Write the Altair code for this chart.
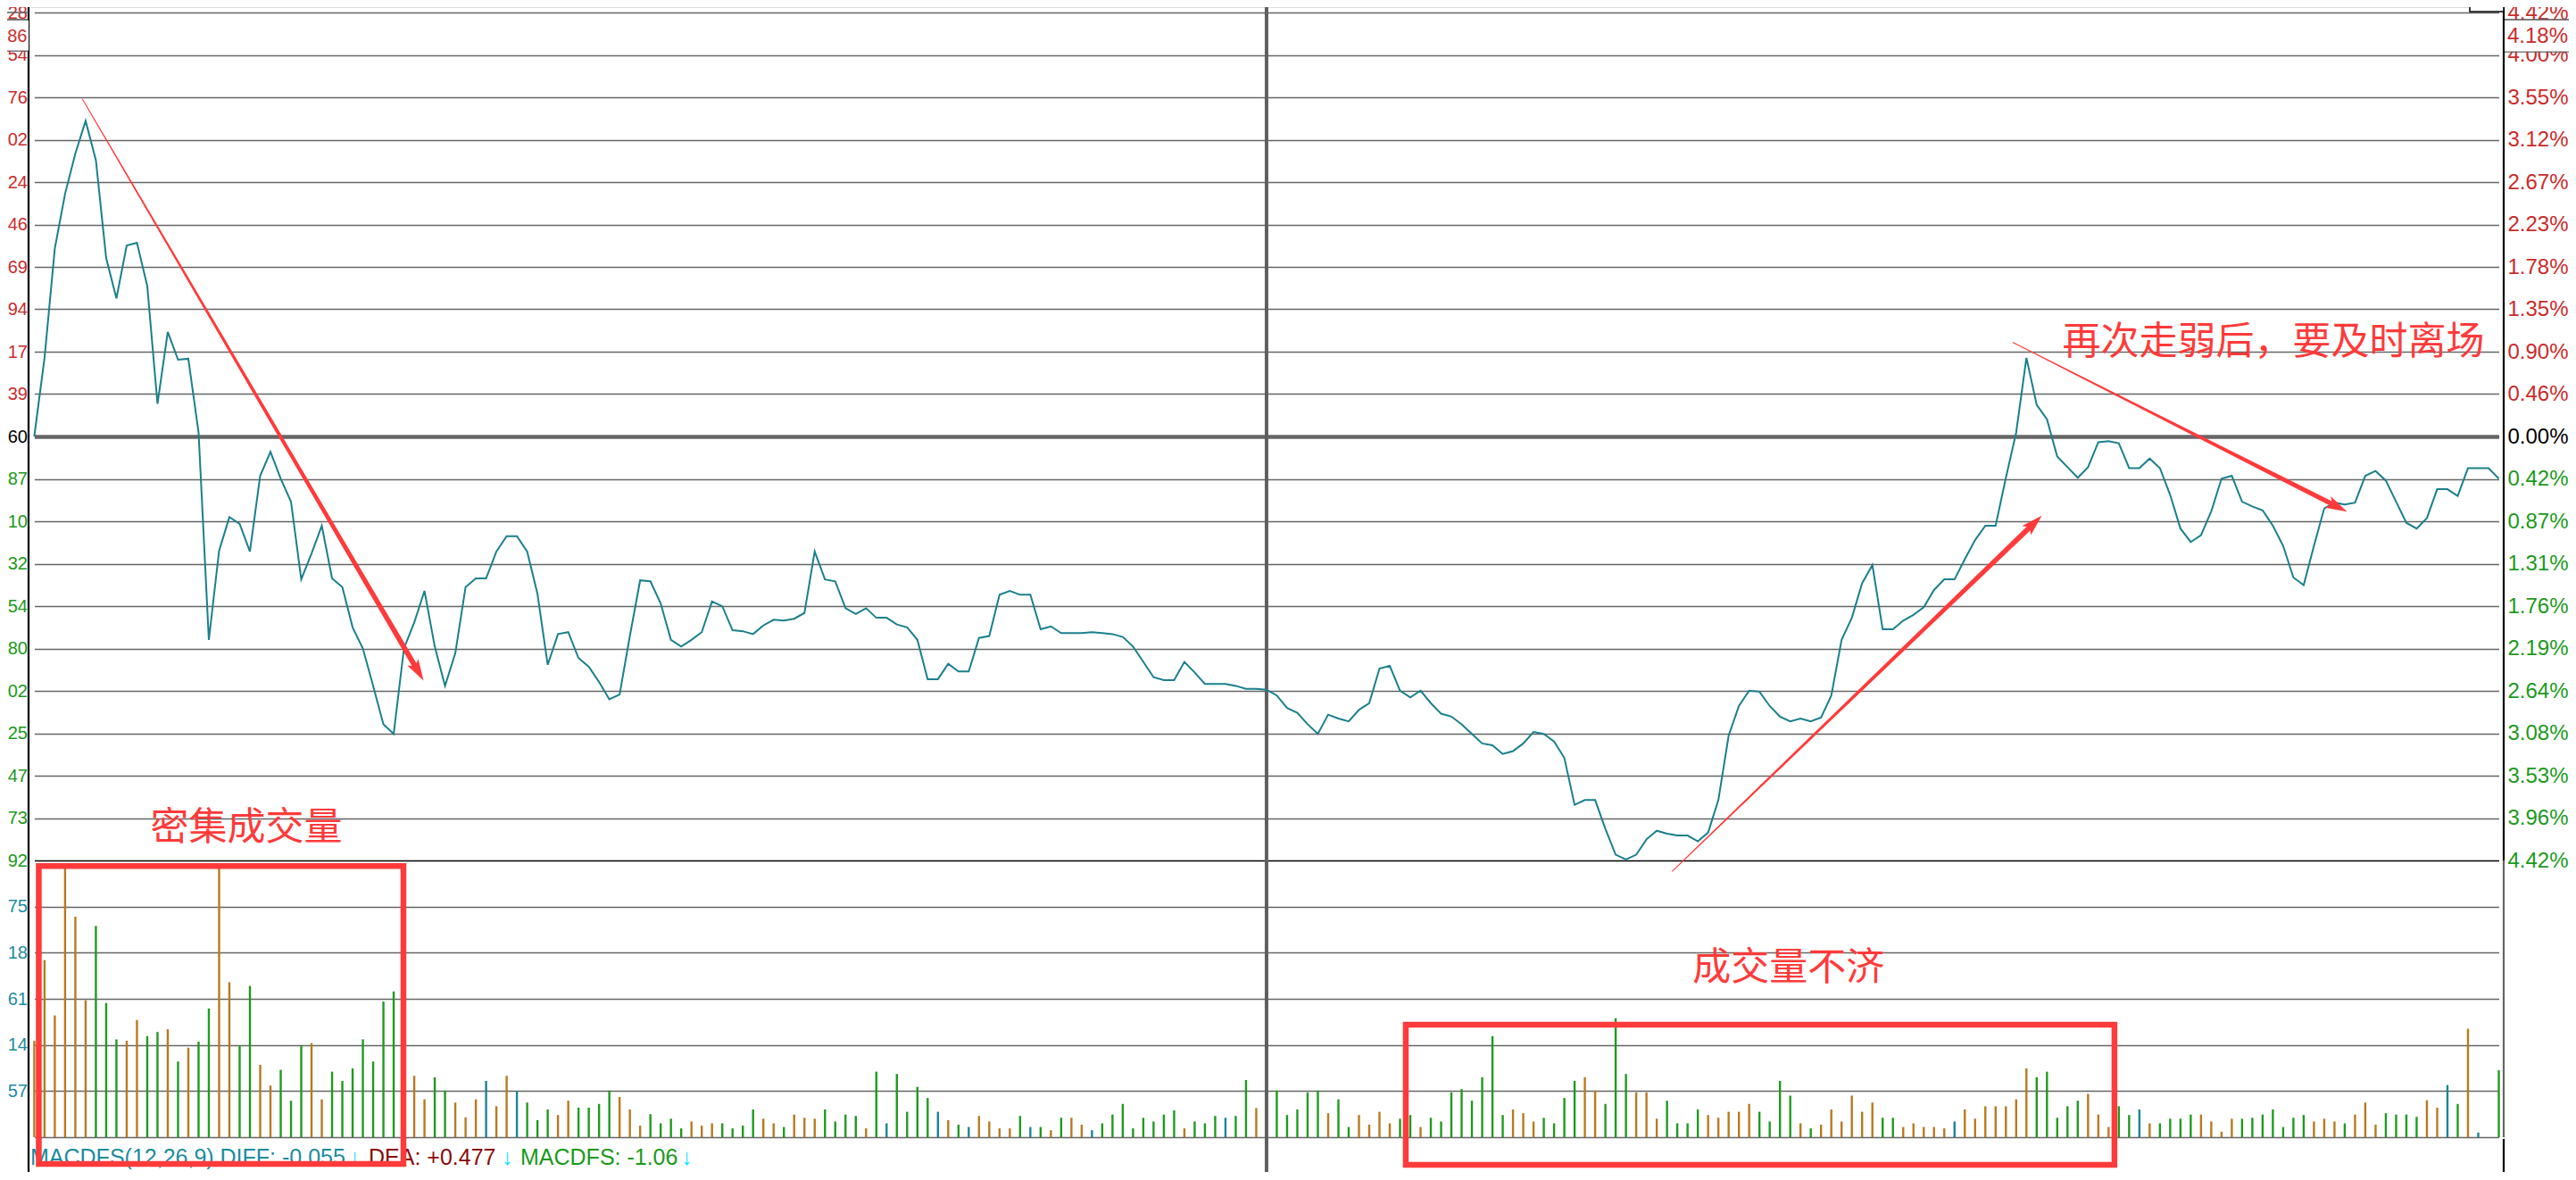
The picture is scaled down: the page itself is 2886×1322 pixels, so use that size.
import math
import altair as alt
import pandas as pd

# ---------------- data ----------------
minutes = list(range(241))

# price change in % versus previous close, one value per minute
price_pct = [
    0.00, 0.82, 1.96, 2.53, 2.95, 3.29, 2.88, 1.86, 1.44, 1.99,
    2.02, 1.57, 0.34, 1.09, 0.80, 0.81, 0.04, -2.12, -1.19, -0.84,
    -0.91, -1.20, -0.41, -0.16, -0.44, -0.68, -1.49, -1.22, -0.93, -1.48,
    -1.57, -1.99, -2.21, -2.60, -3.00, -3.10, -2.21, -1.94, -1.61, -2.19,
    -2.60, -2.26, -1.57, -1.48, -1.48, -1.20, -1.04, -1.04, -1.20, -1.64,
    -2.38, -2.06, -2.04, -2.31, -2.40, -2.56, -2.74, -2.69, -2.08, -1.50,
    -1.51, -1.74, -2.12, -2.19, -2.12, -2.04, -1.72, -1.77, -2.02, -2.03,
    -2.06, -1.97, -1.91, -1.92, -1.90, -1.84, -1.20, -1.49, -1.51, -1.79,
    -1.85, -1.79, -1.89, -1.89, -1.96, -1.99, -2.12, -2.53, -2.53, -2.37,
    -2.45, -2.45, -2.10, -2.08, -1.65, -1.61, -1.65, -1.65, -2.01, -1.98,
    -2.05, -2.05, -2.05, -2.04, -2.05, -2.06, -2.09, -2.19, -2.35, -2.51,
    -2.54, -2.54, -2.35, -2.46, -2.58, -2.58, -2.58, -2.60, -2.63, -2.63,
    -2.64, -2.70, -2.83, -2.88, -3.00, -3.10, -2.90, -2.94, -2.97, -2.85,
    -2.78, -2.42, -2.39, -2.65, -2.72, -2.65, -2.78, -2.89, -2.92, -3.00,
    -3.10, -3.20, -3.22, -3.31, -3.28, -3.20, -3.08, -3.10, -3.18, -3.35,
    -3.84, -3.79, -3.79, -4.09, -4.36, -4.41, -4.36, -4.20, -4.11, -4.14,
    -4.16, -4.16, -4.22, -4.13, -3.79, -3.12, -2.81, -2.65, -2.66, -2.81,
    -2.92, -2.97, -2.94, -2.97, -2.93, -2.70, -2.12, -1.89, -1.53, -1.34,
    -2.01, -2.01, -1.92, -1.86, -1.78, -1.60, -1.49, -1.49, -1.28, -1.08,
    -0.93, -0.93, -0.43, 0.04, 0.82, 0.33, 0.18, -0.21, -0.32, -0.43,
    -0.32, -0.06, -0.05, -0.07, -0.33, -0.33, -0.23, -0.33, -0.61, -0.96,
    -1.10, -1.03, -0.78, -0.44, -0.41, -0.68, -0.73, -0.77, -0.93, -1.14,
    -1.47, -1.55, -1.14, -0.75, -0.69, -0.71, -0.69, -0.41, -0.36, -0.46,
    -0.68, -0.90, -0.96, -0.85, -0.55, -0.55, -0.62, -0.33, -0.33, -0.33,
    -0.44,
]

# volume per minute, in units of one volume grid step
volume = [
    2.09, 3.84, 2.64, 5.85, 4.78, 2.97, 4.58, 2.91, 2.12, 2.09,
    2.54, 2.19, 2.28, 2.34, 1.64, 1.94, 2.07, 2.79, 5.85, 3.36,
    1.99, 3.28, 1.57, 1.12, 1.46, 0.79, 1.99, 2.04, 0.82, 1.42,
    1.22, 1.49, 2.12, 1.64, 2.94, 3.16, 1.00, 1.33, 0.82, 1.30,
    1.01, 0.75, 0.43, 0.82, 1.22, 0.67, 1.33, 1.00, 0.75, 0.37,
    0.60, 0.48, 0.79, 0.64, 0.64, 0.72, 1.01, 0.87, 0.60, 0.25,
    0.50, 0.30, 0.40, 0.19, 0.34, 0.25, 0.30, 0.30, 0.19, 0.25,
    0.60, 0.40, 0.30, 0.22, 0.49, 0.42, 0.40, 0.60, 0.34, 0.49,
    0.46, 0.19, 1.42, 0.30, 1.37, 0.55, 1.09, 0.85, 0.55, 0.37,
    0.27, 0.22, 0.46, 0.34, 0.19, 0.19, 0.46, 0.22, 0.22, 0.15,
    0.42, 0.42, 0.27, 0.15, 0.30, 0.49, 0.72, 0.19, 0.42, 0.34,
    0.49, 0.58, 0.19, 0.34, 0.30, 0.46, 0.42, 0.46, 1.24, 0.63,
    0.40, 1.01, 0.48, 0.60, 0.97, 1.01, 0.52, 0.82, 0.22, 0.48,
    0.27, 0.55, 0.30, 0.40, 0.48, 0.22, 0.42, 0.34, 0.97, 1.04,
    0.79, 1.30, 2.19, 0.48, 0.60, 0.52, 0.34, 0.42, 0.30, 0.85,
    1.22, 1.30, 1.01, 0.72, 2.58, 1.37, 0.97, 0.97, 0.40, 0.79,
    0.30, 0.30, 0.60, 0.48, 0.42, 0.55, 0.55, 0.72, 0.55, 0.34,
    1.22, 0.90, 0.30, 0.19, 0.27, 0.60, 0.34, 0.90, 0.55, 0.75,
    0.42, 0.42, 0.22, 0.30, 0.22, 0.22, 0.19, 0.34, 0.60, 0.40,
    0.67, 0.67, 0.67, 0.82, 1.49, 1.30, 1.42, 0.42, 0.67, 0.79,
    0.94, 0.49, 0.22, 0.67, 0.48, 0.60, 0.30, 0.30, 0.40, 0.40,
    0.49, 0.49, 0.34, 0.12, 0.40, 0.40, 0.42, 0.49, 0.60, 0.22,
    0.42, 0.48, 0.34, 0.40, 0.34, 0.30, 0.49, 0.75, 0.27, 0.52,
    0.49, 0.49, 0.44, 0.80, 0.64, 1.13, 0.72, 2.35, 0.10, 0.00,
    1.45,
]

# bar direction: u = up (orange), d = down (green), f = flat (teal)
vol_dir = list(
    "uuuuuudddu" "uddududduu" "dduuddduud" "dddddduuud" "duuufuufdd"
    "duudddduuu" "dddduuuddd" "duuduuuddd" "dudfddddfu" "dfuuuudfdu"
    "duufdddddd" "ddudddfddu" "dddddduddu" "uuuddudddd" "dddduuuddd"
    "duuddduuud" "ddduuuuudd" "dduduuuuuu" "dduuuuufuu" "uuuuuddddd"
    "uuuddfuddd" "duuuuddddd" "dduuuduuud" "ddduufdufd" "d"
)

# axis tick labels (top to bottom)
left_labels = ["28", "54", "76", "02", "24", "46", "69", "94", "17", "39", "60",
               "87", "10", "32", "54", "80", "02", "25", "47", "73", "92"]
right_labels = ["4.42%", "4.00%", "3.55%", "3.12%", "2.67%", "2.23%", "1.78%",
                "1.35%", "0.90%", "0.46%", "0.00%", "0.42%", "0.87%", "1.31%",
                "1.76%", "2.19%", "2.64%", "3.08%", "3.53%", "3.96%", "4.42%"]
vol_tick_values = [0, 1, 2, 3, 4, 5]
vol_tick_labels = ["", "57", "14", "61", "18", "75"]

# annotations
box_minutes = [(0.44, 35.95), (133.56, 202.57)]
box_vols = [(5.88, -0.58), (2.44, -0.60)]
arrow_start = [(4.70, 3.516), (159.51, -4.532), (192.70, 0.979)]
arrow_tip = [(37.91, -2.546), (195.50, -0.826), (225.22, -0.783)]
arrow_width = [(1.0, 6.0), (1.0, 6.0), (1.0, 5.5)]

# ---------------- styling ----------------
FONT = "Liberation Sans"
CJK = "Noto Sans CJK SC"
RED_LBL = "#cc2a2a"
GRN_LBL = "#1b9a1b"
TEAL_LBL = "#1c8ca0"
LINE = "#1a808c"
GRID = "#666666"
ANN = "#ff3a3a"
BAR_RANGE = ["#b87a20", "#209a20", "#1c8496"]
LEFT_FS = 20
RIGHT_FS = 24

PCT_MAX = 4.42
STEP = 0.442
grid_values = [round(k * STEP, 3) for k in range(-10, 11)]

XS = alt.Scale(domain=[0, 240], range=[6.4, 2767.5], nice=False, zero=False)
YP = alt.Scale(domain=[-PCT_MAX, PCT_MAX], range=[956, 6], nice=False, zero=False)
YV = alt.Scale(domain=[0, 6], range=[1266, 956], nice=False, zero=False)
PX_PER_MIN = (2767.5 - 6.4) / 240
PX_PER_PCT = (956 - 6) / (2 * PCT_MAX)


def js_list(items):
    return "[" + ",".join("'" + s + "'" for s in items) + "]"


idx_expr = "[round((datum.value + 4.42) / 0.442)]"
label_color = {
    "condition": [
        {"test": "datum.value > 0.05", "value": RED_LBL},
        {"test": "datum.value < -0.05", "value": GRN_LBL},
    ],
    "value": "#000000",
}

axis_left = alt.Axis(
    orient="left", values=grid_values, labelExpr=js_list(left_labels[::-1]) + idx_expr,
    domain=False, ticks=False, tickSize=0, labelPadding=1.5, labelFont=FONT,
    labelFontSize=LEFT_FS, labelColor=label_color, labelOverlap=False, title="",
    grid=True, gridOpacity=1,
    gridColor={"condition": {"test": "datum.value < -4.4", "value": "#000000"}, "value": GRID},
    gridWidth={"condition": {"test": "abs(datum.value) < 0.05", "value": 4.5}, "value": 1.6},
)
axis_right = alt.Axis(
    orient="right", values=grid_values, labelExpr=js_list(right_labels[::-1]) + idx_expr,
    domain=False, ticks=False, tickSize=0, labelPadding=4, labelFont=FONT,
    labelFontSize=RIGHT_FS, labelColor=label_color, labelOverlap=False, title="", grid=False,
)
axis_vol = alt.Axis(
    orient="left", values=vol_tick_values, labelExpr=js_list(vol_tick_labels) + "[datum.value]",
    domain=False, ticks=False, tickSize=0, labelPadding=1.5, labelFont=FONT,
    labelFontSize=LEFT_FS, labelColor=TEAL_LBL, labelOverlap=False, title="",
    grid=True, gridColor=GRID, gridWidth=1.6, gridOpacity=1,
)

# ---------------- tables ----------------
df = pd.DataFrame({"minute": minutes, "pct": price_pct, "vol": volume,
                   "dir": vol_dir, "base": 0.0})

frame = pd.DataFrame({
    "x1": [0, 2773, 2773, 2773, -32, -32, -32, 2774, 2774],
    "x2": [0, 2773, 2773, 2773, 0, 0, 0, 2846, 2846],
    "y1": [-10, -10, 956, 1268, 6, 14, 49, 14, 50],
    "y2": [1310, 956, 1266, 1310, 6, 14, 49, 14, 50],
    "c": ["#000000", "#000000", GRID, "#000000", GRID, "#555555", "#555555", "#555555", "#555555"],
    "w": [2.2, 2.2, 2.2, 2.2, 1.6, 1.6, 1.6, 1.6, 1.6],
})

white_boxes = pd.DataFrame({"x1": [-32, 2774], "x2": [0, 2846], "y1": [15, 15], "y2": [48.5, 49.5]})
icon_box = pd.DataFrame({"x1": [2735], "x2": [2773], "y1": [-10], "y2": [5]})
cursor_left = pd.DataFrame({"x": [-1.5], "y": [33], "t": ["86"]})
cursor_right = pd.DataFrame({"x": [2777], "y": [33], "t": ["4.18%"]})

macd_text = pd.DataFrame({
    "x": [2, 359, 381, 530, 551, 731],
    "y": [1289] * 6,
    "t": ["MACDFS(12,26,9) DIFF: -0.055", "↓", "DEA: +0.477", "↓", "MACDFS: -1.06", "↓"],
    "c": [TEAL_LBL, "#00e5ff", "#8b0a0a", "#00e5ff", "#1a9a1a", "#00e5ff"],
})

boxes = pd.DataFrame({
    "m1": [b[0] for b in box_minutes], "m2": [b[1] for b in box_minutes],
    "v1": [b[0] for b in box_vols], "v2": [b[1] for b in box_vols],
})

trail_rows, head_rows = [], []
for i, ((m0, p0), (m1, p1), (w0, w1)) in enumerate(zip(arrow_start, arrow_tip, arrow_width)):
    dx = (m1 - m0) * PX_PER_MIN
    dy = -(p1 - p0) * PX_PER_PCT
    length = math.hypot(dx, dy)
    t = 1 - 16 / length
    trail_rows.append({"aid": i, "ord": 0, "minute": m0, "pct": p0, "w": w0})
    trail_rows.append({"aid": i, "ord": 1, "minute": m0 + t * (m1 - m0),
                       "pct": p0 + t * (p1 - p0), "w": w1})
    head_rows.append({"minute": m1, "pct": p1, "ang": math.degrees(math.atan2(dy, dx)) % 360})
trails = pd.DataFrame(trail_rows)
heads = pd.DataFrame(head_rows)

pct_texts = pd.DataFrame({"minute": [20.65], "pct": [-4.084], "t": ["密集成交量"]})
left_text = pd.DataFrame({"minute": [197.5], "pct": [0.979], "t": ["再次走弱后，要及时离场"]})
vol_texts = pd.DataFrame({"minute": [170.84], "vol": [3.66], "t": ["成交量不济"]})
midline = pd.DataFrame({"minute": [120], "y1": [-10], "y2": [1310]})

HEAD = "M0,0L-2,-0.6L-1.55,0L-2,0.6Z"

# ---------------- layers ----------------
bars = alt.Chart(df).mark_rule(strokeWidth=2.4).encode(
    x=alt.X("minute:Q", scale=XS, axis=None),
    y=alt.Y("vol:Q", scale=YV, axis=axis_vol),
    y2="base:Q",
    color=alt.Color("dir:N", scale=alt.Scale(domain=["u", "d", "f"], range=BAR_RANGE), legend=None),
)

mid = alt.Chart(midline).mark_rule(strokeWidth=4, color="#5f5f5f").encode(
    x=alt.X("minute:Q", scale=XS, axis=None),
    y=alt.Y("y1:Q", scale=None, axis=None), y2="y2:Q",
)

price = alt.Chart(df).mark_line(strokeWidth=2, color=LINE).encode(
    x=alt.X("minute:Q", scale=XS, axis=None),
    y=alt.Y("pct:Q", scale=YP, axis=axis_left),
)
price_right = alt.Chart(df).mark_line(opacity=0).encode(
    x=alt.X("minute:Q", scale=XS, axis=None),
    y=alt.Y("pct:Q", scale=YP, axis=axis_right),
)

frame_layer = alt.Chart(frame).mark_rule().encode(
    x=alt.X("x1:Q", scale=None, axis=None), x2="x2:Q",
    y=alt.Y("y1:Q", scale=None, axis=None), y2="y2:Q",
    color=alt.Color("c:N", scale=None),
    strokeWidth=alt.StrokeWidth("w:Q", scale=None),
)

white_layer = alt.Chart(white_boxes).mark_rect(color="white").encode(
    x=alt.X("x1:Q", scale=None, axis=None), x2="x2:Q",
    y=alt.Y("y1:Q", scale=None, axis=None), y2="y2:Q",
)
icon_layer = alt.Chart(icon_box).mark_rect(fill="white", stroke="#000000", strokeWidth=1.5).encode(
    x=alt.X("x1:Q", scale=None, axis=None), x2="x2:Q",
    y=alt.Y("y1:Q", scale=None, axis=None), y2="y2:Q",
)
cursor_l = alt.Chart(cursor_left).mark_text(
    font=FONT, fontSize=LEFT_FS, color=RED_LBL, baseline="middle", align="right"
).encode(
    x=alt.X("x:Q", scale=None, axis=None),
    y=alt.Y("y:Q", scale=None, axis=None),
    text="t:N",
)
cursor_r = alt.Chart(cursor_right).mark_text(
    font=FONT, fontSize=RIGHT_FS, color=RED_LBL, baseline="middle", align="left"
).encode(
    x=alt.X("x:Q", scale=None, axis=None),
    y=alt.Y("y:Q", scale=None, axis=None),
    text="t:N",
)

macd_layer = alt.Chart(macd_text).mark_text(
    font=FONT, fontSize=25, align="left", baseline="middle"
).encode(
    x=alt.X("x:Q", scale=None, axis=None),
    y=alt.Y("y:Q", scale=None, axis=None),
    text="t:N",
    color=alt.Color("c:N", scale=None),
)

box_layer = alt.Chart(boxes).mark_rect(filled=False, color=ANN, strokeWidth=6.5).encode(
    x=alt.X("m1:Q", scale=XS, axis=None), x2="m2:Q",
    y=alt.Y("v1:Q", scale=YV, axis=None), y2="v2:Q",
)

trail_layer = alt.Chart(trails).mark_trail(color=ANN).encode(
    x=alt.X("minute:Q", scale=XS, axis=None),
    y=alt.Y("pct:Q", scale=YP, axis=None),
    size=alt.Size("w:Q", scale=None),
    detail="aid:N",
    order="ord:Q",
)
head_layer = alt.Chart(heads).mark_point(
    shape=HEAD, filled=True, size=576, color=ANN, opacity=1, strokeWidth=0
).encode(
    x=alt.X("minute:Q", scale=XS, axis=None),
    y=alt.Y("pct:Q", scale=YP, axis=None),
    angle=alt.Angle("ang:Q", scale=None),
)

txt1 = alt.Chart(pct_texts).mark_text(
    font=CJK, fontSize=43, color=ANN, align="center", baseline="middle"
).encode(
    x=alt.X("minute:Q", scale=XS, axis=None),
    y=alt.Y("pct:Q", scale=YP, axis=None),
    text="t:N",
)
txt2 = alt.Chart(left_text).mark_text(
    font=CJK, fontSize=43, color=ANN, align="left", baseline="middle"
).encode(
    x=alt.X("minute:Q", scale=XS, axis=None),
    y=alt.Y("pct:Q", scale=YP, axis=None),
    text="t:N",
)
txt3 = alt.Chart(vol_texts).mark_text(
    font=CJK, fontSize=43, color=ANN, align="center", baseline="middle"
).encode(
    x=alt.X("minute:Q", scale=XS, axis=None),
    y=alt.Y("vol:Q", scale=YV, axis=None),
    text="t:N",
)

chart = alt.layer(
    bars, mid, price, price_right, frame_layer, white_layer, icon_layer, cursor_l, cursor_r,
    macd_layer, box_layer, trail_layer, head_layer, txt1, txt2, txt3,
).resolve_scale(
    x="independent", y="independent", color="independent"
).properties(
    width=2773, height=1305,
    padding={"left": 24, "top": 0, "right": 73, "bottom": 0},
    autosize=alt.AutoSizeParams(type="none"),
).configure_view(strokeWidth=0).configure(background="white")

chart.save("out.html", embed_options={"renderer": "svg", "actions": False})
